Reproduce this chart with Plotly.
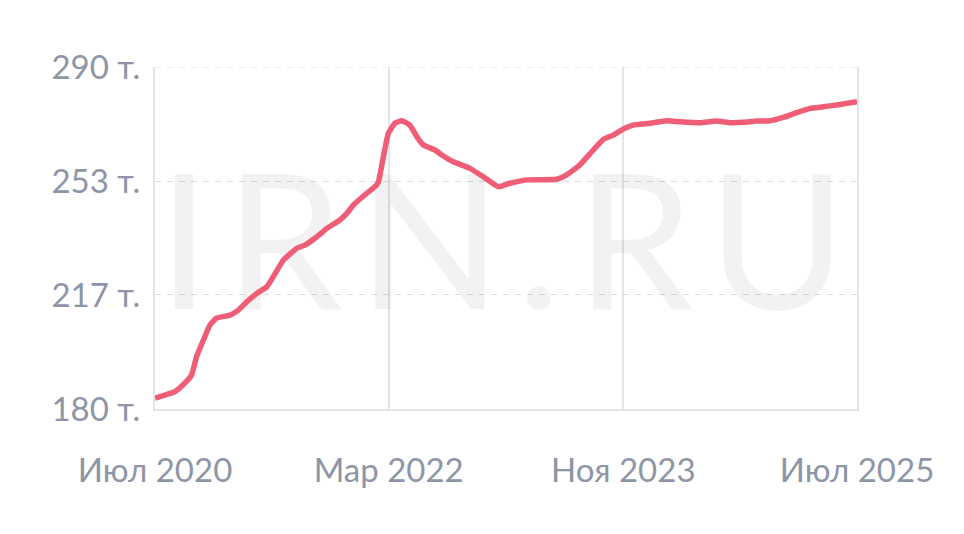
import plotly.graph_objects as go

# ---- data ----
dates = ["2020-07-01", "2020-07-14", "2020-08-22", "2020-09-17", "2020-10-04", "2020-10-17",
         "2020-11-04", "2020-11-21", "2020-12-08", "2021-01-12", "2021-02-03", "2021-02-25",
         "2021-03-23", "2021-04-18", "2021-05-05", "2021-05-31", "2021-07-05", "2021-07-26",
         "2021-08-26", "2021-09-21", "2021-10-25", "2021-11-12", "2021-11-29", "2022-01-03",
         "2022-01-24", "2022-02-02", "2022-02-15", "2022-02-28", "2022-03-17", "2022-04-04",
         "2022-04-25", "2022-05-13", "2022-05-30", "2022-06-29", "2022-07-17", "2022-08-16",
         "2022-09-28", "2022-11-02", "2022-12-11", "2023-01-10", "2023-02-23", "2023-05-12",
         "2023-06-07", "2023-07-11", "2023-08-15", "2023-09-10", "2023-10-06", "2023-11-05",
         "2023-11-27", "2024-01-09", "2024-02-22", "2024-03-28", "2024-05-19", "2024-07-01",
         "2024-08-05", "2024-09-08", "2024-10-13", "2024-11-17", "2024-12-21", "2025-01-25",
         "2025-03-01", "2025-04-04", "2025-05-09", "2025-06-04", "2025-07-01"]
values = [183.5, 184.0, 185.6, 188.4, 190.9, 196.8,
          202.2, 207.0, 209.2, 210.2, 211.8, 214.5,
          217.2, 219.3, 222.6, 227.9, 231.7, 232.7,
          235.4, 238.1, 240.8, 242.9, 245.6, 249.4,
          251.5, 253.0, 261.1, 268.7, 271.9, 272.7,
          271.3, 267.6, 264.9, 263.3, 261.7, 259.5,
          257.4, 254.7, 251.5, 252.6, 253.7, 253.9,
          255.3, 258.5, 263.3, 266.7, 268.1, 270.3,
          271.3, 271.9, 272.7, 272.4, 272.1, 272.6,
          272.1, 272.2, 272.6, 272.7, 273.8, 275.3,
          276.7, 277.2, 277.8, 278.3, 278.8]

x_tick_vals = ["2020-07-01", "2022-03-01", "2023-11-01", "2025-07-01"]
x_tick_text = ["Июл 2020", "Мар 2022", "Ноя 2023", "Июл 2025"]
y_tick_vals = [180, 216.67, 253.33, 290]
y_tick_text = ["180 т.", "217 т.", "253 т.", "290 т."]

watermark_text = "IRN.RU"
watermark_x = ["2023-01-09"]
watermark_y = [227.3]

LINE_COLOR = "#ef5d76"
TICK_COLOR = "#8d95a7"
GRID_COLOR = "#dcdde2"
FRAME_COLOR = "#e4e5ea"

fig = go.Figure()

fig.add_trace(go.Scatter(
    x=watermark_x, y=watermark_y, mode="text",
    text=['<span style="letter-spacing:15px">' + watermark_text + '</span>'],
    textposition="middle center",
    textfont=dict(family="Lato", size=188, color="rgba(0,0,0,0.05)"),
    hoverinfo="skip", showlegend=False,
))

fig.add_trace(go.Scatter(
    x=dates, y=values, mode="lines",
    line=dict(color=LINE_COLOR, width=5.5, shape="spline", smoothing=0.4),
    hoverinfo="skip", showlegend=False,
))

# top dashed gridline at the last y tick (plotly hides edge gridlines)
fig.add_shape(type="line", xref="paper", x0=0, x1=1, yref="y",
              y0=y_tick_vals[-1], y1=y_tick_vals[-1], layer="below",
              line=dict(color=GRID_COLOR, width=1, dash="6px,6px"))

fig.update_layout(
    width=964, height=534,
    margin=dict(l=147, r=115, t=59, b=133),
    paper_bgcolor="white", plot_bgcolor="white",
    font=dict(family="Lato", size=33, color=TICK_COLOR),
    showlegend=False,
    xaxis=dict(
        type="date", range=["2020-07-01", "2025-07-01"],
        tickmode="array", tickvals=x_tick_vals, ticktext=x_tick_text,
        showgrid=True, gridcolor=FRAME_COLOR, gridwidth=2,
        showline=True, linecolor=FRAME_COLOR, linewidth=2, mirror=False,
        zeroline=False, ticks="", ticklabelstandoff=31,
        tickfont=dict(family="Lato", size=33, color=TICK_COLOR),
    ),
    yaxis=dict(
        range=[180, 290],
        tickmode="array", tickvals=y_tick_vals, ticktext=y_tick_text,
        showgrid=True, gridcolor=GRID_COLOR, gridwidth=1, griddash="6px,6px",
        showline=True, linecolor=FRAME_COLOR, linewidth=2, mirror=True,
        zeroline=False, ticks="", ticklabelstandoff=6,
        tickfont=dict(family="Lato", size=33, color=TICK_COLOR),
    ),
)

fig.write_html("out.html")
